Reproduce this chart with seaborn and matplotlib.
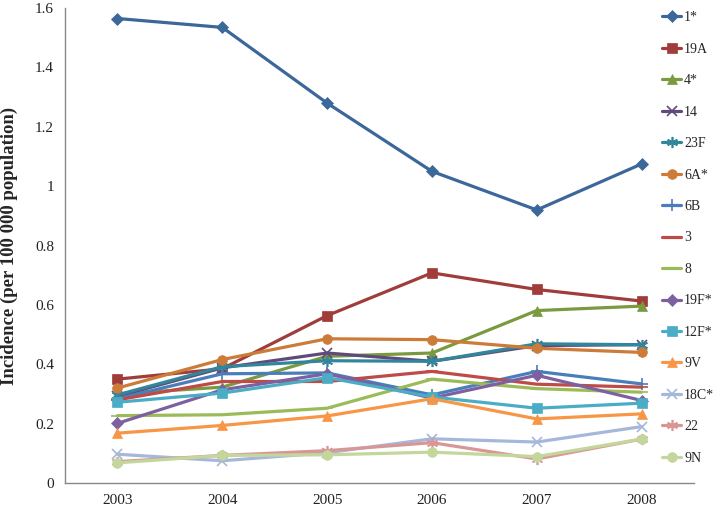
import pandas as pd
import seaborn as sns
import matplotlib.pyplot as plt
from matplotlib.ticker import FuncFormatter

years = [2003, 2004, 2005, 2006, 2007, 2008]

serotypes = ['1*', '19A', '4*', '14', '23F', '6A*', '6B', '3', '8',
             '19F*', '12F*', '9V', '18C*', '22', '9N']

s1 = [1.565, 1.535, 1.28, 1.05, 0.92, 1.075]
s19A = [0.350, 0.385, 0.564, 0.708, 0.652, 0.613]
s4 = [0.300, 0.323, 0.427, 0.438, 0.581, 0.596]
s14 = [0.292, 0.388, 0.438, 0.410, 0.463, 0.466]
s23F = [0.297, 0.392, 0.412, 0.410, 0.469, 0.466]
s6A = [0.320, 0.416, 0.486, 0.483, 0.454, 0.440]
s6B = [0.284, 0.368, 0.371, 0.297, 0.376, 0.334]
s3 = [0.280, 0.342, 0.342, 0.376, 0.333, 0.323]
s8 = [0.227, 0.230, 0.252, 0.350, 0.318, 0.306]
s19F = [0.201, 0.314, 0.368, 0.286, 0.363, 0.278]
s12F = [0.272, 0.303, 0.355, 0.290, 0.252, 0.269]
s9V = [0.168, 0.194, 0.226, 0.284, 0.216, 0.233]
s18C = [0.097, 0.075, 0.102, 0.149, 0.138, 0.190]
s22 = [0.072, 0.093, 0.109, 0.136, 0.081, 0.148]
s9N = [0.068, 0.093, 0.095, 0.104, 0.089, 0.148]

values = [s1, s19A, s4, s14, s23F, s6A, s6B, s3, s8, s19F, s12F, s9V, s18C, s22, s9N]

colors = ['#3c679a', '#a03c3a', '#7b9a3e', '#604a7b', '#31869b', '#cc7b38',
          '#4a7ebb', '#be4b48', '#9bbb59', '#7d60a0', '#4bacc6', '#f79646',
          '#a5b8da', '#d99694', '#c3d69b']
markers = ['D', 's', '^', 'x', '*', 'o', '+', '_', '_', 'D', 's', '^', 'x', '*', 'o']

rows = []
for name, vals in zip(serotypes, values):
    for yr, v in zip(years, vals):
        rows.append({'year': yr, 'serotype': name, 'incidence': v})
df = pd.DataFrame(rows)

sns.set_style('white')
plt.rcParams['font.family'] = ['Liberation Serif', 'DejaVu Serif']

fig = plt.figure(figsize=(7.17, 5.07), dpi=100)
ax = fig.add_axes([0.0907, 0.0473, 0.968 - 0.0907, 0.984 - 0.0473])

for name, col, mk in zip(serotypes, colors, markers):
    sub = df[df['serotype'] == name]
    line_marker = mk in ('x', '+', '_')
    ms = {'D': 6, 's': 6.5, '^': 7, 'o': 7, 'x': 7, '*': 8, '+': 8.5, '_': 8}[mk]
    if mk == '*':
        # asterisk drawn as x with a vertical stroke
        mk = (6, 2, 0)
        line_marker = True
    sns.lineplot(data=sub, x='year', y='incidence', ax=ax, color=col,
                 marker=mk, markersize=ms, linewidth=2.3, label=name,
                 markeredgecolor=col, markerfacecolor=col,
                 markeredgewidth=1.2 if line_marker else 0.5)

ax.set_xlim(2002.5, 2008.5)
ax.set_ylim(0, 1.6)
ax.set_xticks(years)
ax.set_xticklabels([str(y) for y in years])
ax.set_yticks([0, 0.2, 0.4, 0.6, 0.8, 1.0, 1.2, 1.4, 1.6])
ax.yaxis.set_major_formatter(FuncFormatter(lambda v, p: '{:g}'.format(round(v, 1))))
ax.tick_params(axis='both', length=0, labelsize=11, pad=8, colors='#222222')
ax.set_xlabel('')
ax.set_ylabel('Incidence (per 100 000 population)', fontsize=13.5,
              fontweight='bold', labelpad=12)

for side in ['top', 'right']:
    ax.spines[side].set_visible(False)
for side in ['left', 'bottom']:
    ax.spines[side].set_color('#888888')
    ax.spines[side].set_linewidth(1.0)

handles, labels = ax.get_legend_handles_labels()
ax.get_legend().remove()
fig.legend(handles, labels, loc='upper left', bbox_to_anchor=(662 / 717, 0.978),
           frameon=False, fontsize=10, borderpad=0, borderaxespad=0,
           handlelength=1.4, handletextpad=0.2, labelspacing=1.33)

fig.savefig('out.png', dpi=100)
